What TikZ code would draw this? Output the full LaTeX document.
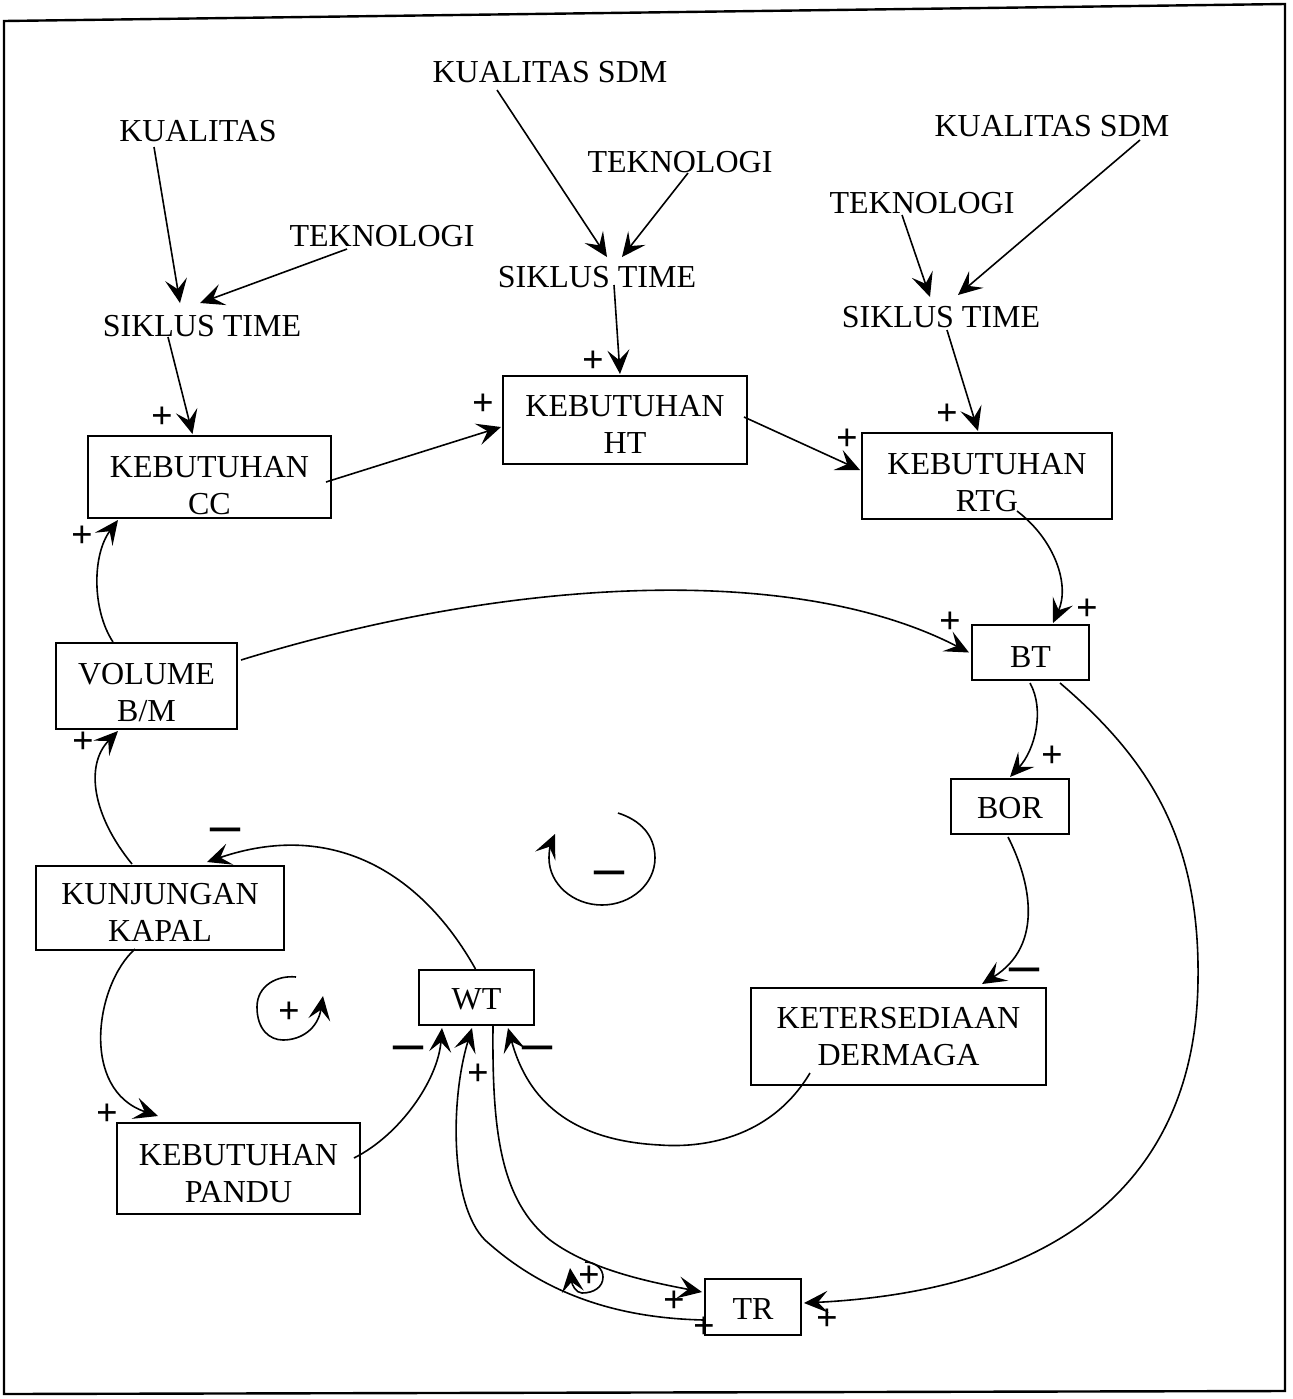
\documentclass[tikz,border=0pt]{standalone}
\usepackage{fontspec}
\usepackage{graphicx}
\setmainfont{Liberation Serif}
\usetikzlibrary{arrows.meta,calc}
% invisible strut that lowers the text block inside a box
\newcommand{\lowr}[1]{\rule{0pt}{#1}}
\newcommand{\negbar}{\scalebox{1}[1.8]{—}}

\begin{document}
\begin{tikzpicture}[x=0.5pt,y=-0.5pt,
  box/.style={draw,line width=1pt,align=center,inner sep=0pt,font=\fontsize{16}{18.5}\selectfont},
  word/.style={inner sep=0pt,font=\fontsize{16}{18.5}\selectfont},
  sgn/.style={inner sep=0pt,font=\fontsize{19}{20}\selectfont\bfseries},
  neg/.style={inner sep=0pt,font=\fontsize{15}{16}\selectfont\bfseries},
  link/.style={line width=0.8pt,-{Stealth[length=12pt,width=11pt,inset=5pt]}},
  ]
\useasboundingbox (0,0) rectangle (1292,1399);

% outer frame
\draw[line width=1.2pt] (4,21) -- (1285,4) -- (1285,1391) -- (4,1394) -- cycle;

% driving factors
\node[word] (kual1) at (198,131) {KUALITAS};
\node[word] (tek1)  at (382,236) {TEKNOLOGI};
\node[word] (sik1)  at (202,326) {SIKLUS TIME};
\node[word] (kual2) at (550,72)  {KUALITAS SDM};
\node[word] (tek2)  at (680,162) {TEKNOLOGI};
\node[word] (sik2)  at (597,277) {SIKLUS TIME};
\node[word] (kual3) at (1052,126) {KUALITAS SDM};
\node[word] (tek3)  at (922,203) {TEKNOLOGI};
\node[word] (sik3)  at (941,317) {SIKLUS TIME};

% variables
\node[box,minimum width=121.5pt,minimum height=41pt] (cc)  at (209.5,477)  {\lowr{19.6pt}KEBUTUHAN\\CC};
\node[box,minimum width=122pt,minimum height=44pt]   (ht)  at (625,420)    {\lowr{14.6pt}KEBUTUHAN\\HT};
\node[box,minimum width=125pt,minimum height=43pt]   (rtg) at (987,476)    {\lowr{17.6pt}KEBUTUHAN\\RTG};
\node[box,minimum width=90.5pt,minimum height=43pt]  (vol) at (146.5,686)  {\lowr{17.6pt}VOLUME\\B/M};
\node[box,minimum width=58.5pt,minimum height=27.5pt] (bt) at (1030.5,652.5) {\lowr{14.6pt}BT};
\node[box,minimum width=59pt,minimum height=27.5pt]  (bor) at (1010,806.5)  {\lowr{12.6pt}BOR};
\node[box,minimum width=124pt,minimum height=42pt]   (kk)  at (160,908)    {\lowr{14.6pt}KUNJUNGAN\\KAPAL};
\node[box,minimum width=57.5pt,minimum height=27.5pt] (wt) at (476.5,997.5) {\lowr{12.6pt}WT};
\node[box,minimum width=147.5pt,minimum height=48.5pt] (kd) at (898.5,1036.5) {KETERSEDIAAN\\DERMAGA};
\node[box,minimum width=121.5pt,minimum height=45.5pt] (kp) at (238.5,1168.5) {\lowr{15.6pt}KEBUTUHAN\\PANDU};
\node[box,minimum width=48pt,minimum height=28pt]    (tr)  at (753,1307)   {\lowr{12.6pt}TR};

% straight links from the factors
\draw[link] ($(kual1)+(-44,16)$) -- ($(sik1)+(-22,-23)$);
\draw[link] ($(tek1)+(-35,13)$) -- ($(sik1)+(-2,-23)$);
\draw[link] ($(sik1)+(-34,11)$) -- ($(cc.north)+(-17,-1)$);
\draw[link] ($(cc.east)+(-6,5)$) -- ($(ht.west)+(-1,7)$);
\draw[link] ($(kual2)+(-53,18)$) -- ($(sik2)+(10,-20)$);
\draw[link] ($(tek2)+(8,11)$) -- ($(sik2)+(25,-20)$);
\draw[link] ($(sik2)+(17,8)$) -- ($(ht.north)+(-5,-1)$);
\draw[link] ($(ht.east)+(-4,-3)$) -- ($(rtg.west)+(-1,-6)$);
\draw[link] ($(kual3)+(88,14)$) -- ($(sik3)+(17,-22)$);
\draw[link] ($(tek3)+(-20,12)$) -- ($(sik3)+(-11,-20)$);
\draw[link] ($(sik3)+(6,13)$) -- ($(rtg.north)+(-9,-1)$);

% curved links
\draw[link] ($(rtg.south)+(30,-9)$) .. controls (1055,540) and (1070,585) .. ($(bt.north)+(22.5,-1)$);
\draw[link] ($(vol.east)+(3,-26)$) .. controls (500,580) and (790,560) .. ($(bt.west)+(-2,0)$);
\draw[link] ($(vol.north)+(-33.5,0)$) .. controls (92,610) and (92,555) .. ($(cc.south)+(-91.5,1)$);
\draw[link] ($(kk.north)+(-28,-1)$) .. controls (92,815) and (85,765) .. ($(vol.south)+(-28.5,1)$);
\draw[link] ($(wt.north)+(-1,0)$) .. controls (420,870) and (330,820) .. ($(kk.north)+(47,-3)$);
\draw[link] ($(kk.south)+(-25,-2)$) .. controls (95,985) and (80,1090) .. ($(kp.north)+(-80.5,-6)$);
\draw[link] ($(kp.east)+(-7,-10.5)$) .. controls (400,1135) and (438,1080) .. ($(wt.south)+(-34.5,2)$);
\draw[link] ($(tr.west)+(0,13)$) .. controls (610,1318) and (540,1290) .. (485,1240)
            .. controls (450,1205) and (450,1100) .. ($(wt.south)+(-4.5,2)$);
\draw[link] ($(wt.south)+(16.5,0)$) .. controls (492,1130) and (500,1200) .. (550,1240)
            .. controls (590,1270) and (650,1282) .. ($(tr.west)+(-2,-15)$);
\draw[link] ($(bt.south)+(29.5,2)$) .. controls (1150,760) and (1200,840) .. (1198,980)
            .. controls (1196,1180) and (1060,1290) .. ($(tr.east)+(2,-4)$);
\draw[link] ($(bt.south)+(-0.5,2)$) .. controls (1045,710) and (1035,750) .. ($(bor.north)+(0,-1)$);
\draw[link] ($(bor.south)+(-2,2)$) .. controls (1030,880) and (1045,945) .. ($(kd.north)+(83.5,-3)$);
\draw[link] ($(kd.west)+(60,36.5)$) .. controls (770,1140) and (700,1148) .. (660,1145)
            .. controls (560,1140) and (525,1090) .. ($(wt.south)+(31.5,2)$);

% polarity signs
\node[sgn] (s1)  at (162,418)  {+};
\node[sgn] (s2)  at (483,405)  {+};
\node[sgn] (s3)  at (593,362)  {+};
\node[sgn] (s4)  at (847,440)  {+};
\node[sgn] (s5)  at (947,415)  {+};
\node[sgn] (s6)  at (82,537)   {+};
\node[sgn] (s7)  at (1087,610) {+};
\node[sgn] (s8)  at (950,623)  {+};
\node[sgn] (s9)  at (83,743)   {+};
\node[sgn] (s10) at (1052,757) {+};
\node[neg] (s11) at (225,835)  {\negbar};
\node[neg] (s12) at (1024,975) {\negbar};
\node[sgn] (s13) at (107,1115) {+};
\node[neg] (s14) at (408,1053) {\negbar};
\node[sgn] (s15) at (478,1075) {+};
\node[neg] (s16) at (537,1053) {\negbar};
\node[sgn] (s17) at (674,1302) {+};
\node[sgn] (s18) at (704,1328) {+};
\node[sgn] (s19) at (827,1320) {+};

% loop markers
\draw[link] (618,813) .. controls (640,820) and (655,835) .. (655,858)
            .. controls (655,884) and (631,905) .. (602,905)
            .. controls (573,905) and (549,884) .. (549,858)
            .. controls (549,850) and (551,843) .. (555,834);
\node[neg] (l1) at (609,878) {\negbar};

\draw[link] (296,977) .. controls (278,975) and (257,985) .. (257,1007)
            .. controls (257,1030) and (270,1040) .. (283,1040)
            .. controls (302,1040) and (318,1028) .. (323,996);
\node[sgn] (l2) at (289,1013) {+};

\draw[link] (585,1262) .. controls (596,1262) and (603,1269) .. (603,1277)
            .. controls (603,1287) and (594,1293) .. (582,1293)
            .. controls (576,1293) and (572,1285) .. (570,1268);
\node[sgn] (l3) at (589,1277) {+};

\end{tikzpicture}
\end{document}
